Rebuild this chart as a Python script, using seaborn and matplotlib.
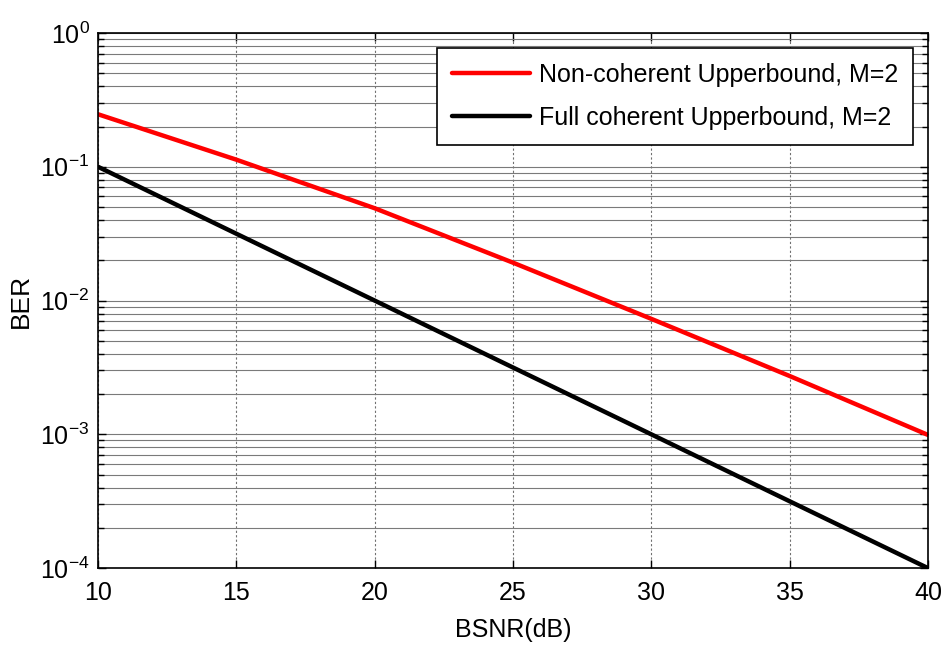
import numpy as np
import pandas as pd
import matplotlib
matplotlib.use("Agg")
import matplotlib.pyplot as plt
import seaborn as sns
from matplotlib.ticker import LogLocator, FixedLocator

# BER versus BSNR for the two upper bounds
bsnr_db = [10, 15, 20, 25, 30, 35, 40]
ber_noncoherent = [0.247, 0.113, 0.049, 0.0192, 0.0073, 0.00273, 0.00099]
ber_coherent = [0.1, 0.0316, 0.01, 0.00316, 0.001, 0.000316, 0.0001]
series_names = ["Non-coherent Upperbound, M=2", "Full coherent Upperbound, M=2"]
series_colors = ["#ff0000", "#000000"]
x_ticks = [10, 15, 20, 25, 30, 35, 40]

df = pd.DataFrame({
    "BSNR": bsnr_db * 2,
    "BER": ber_noncoherent + ber_coherent,
    "curve": [series_names[0]] * len(bsnr_db) + [series_names[1]] * len(bsnr_db),
})

sns.set_style("white")
plt.rcParams["font.family"] = ["Liberation Sans", "DejaVu Sans"]
plt.rcParams["mathtext.fontset"] = "custom"
plt.rcParams["mathtext.rm"] = "Liberation Sans"
plt.rcParams["mathtext.it"] = "Liberation Sans"
plt.rcParams["text.color"] = "black"
plt.rcParams["axes.labelcolor"] = "black"
plt.rcParams["xtick.color"] = "black"
plt.rcParams["ytick.color"] = "black"

fig = plt.figure(figsize=(9.43, 6.56), dpi=100)
ax = fig.add_axes([0.1039, 0.134, 0.8801, 0.8157])

sns.lineplot(data=df, x="BSNR", y="BER", hue="curve", palette=series_colors,
             hue_order=series_names, linewidth=3.2, ax=ax, legend=True)

ax.set_yscale("log")
ax.set_xlim(10, 40)
ax.set_ylim(1e-4, 1)
ax.xaxis.set_major_locator(FixedLocator(x_ticks))
ax.yaxis.set_major_locator(LogLocator(base=10, numticks=10))
ax.yaxis.set_minor_locator(LogLocator(base=10, subs=np.arange(2, 10), numticks=20))

ax.grid(True, axis="x", which="major", linestyle=(0, (2, 2)), color="#707070", linewidth=0.8)
ax.grid(True, axis="y", which="both", linestyle="-", color="#7a7a7a", linewidth=0.8)

ax.tick_params(axis="both", which="both", direction="in", top=True, right=True,
               bottom=True, left=True, labelsize=18, colors="black")
ax.tick_params(which="major", length=6, width=1)
ax.tick_params(which="minor", length=4, width=1)
ax.tick_params(axis="x", pad=9)
ax.tick_params(axis="y", pad=6)

for spine in ax.spines.values():
    spine.set_color("black")
    spine.set_linewidth(1.2)

ax.set_xlabel("BSNR(dB)", fontsize=18, labelpad=10, color="black")
ax.set_ylabel("BER", fontsize=19, color="black")
ax.yaxis.set_label_coords(-0.078, 0.5)

leg = ax.legend(loc="upper right", fontsize=18, frameon=True, fancybox=False,
                framealpha=1, edgecolor="black", handlelength=3.1,
                handletextpad=0.35, borderpad=0.6, borderaxespad=0.6,
                labelspacing=0.75, title=None)
leg.get_frame().set_linewidth(1.2)
for txt in leg.get_texts():
    txt.set_color("black")

fig.savefig("out.png", dpi=100)
